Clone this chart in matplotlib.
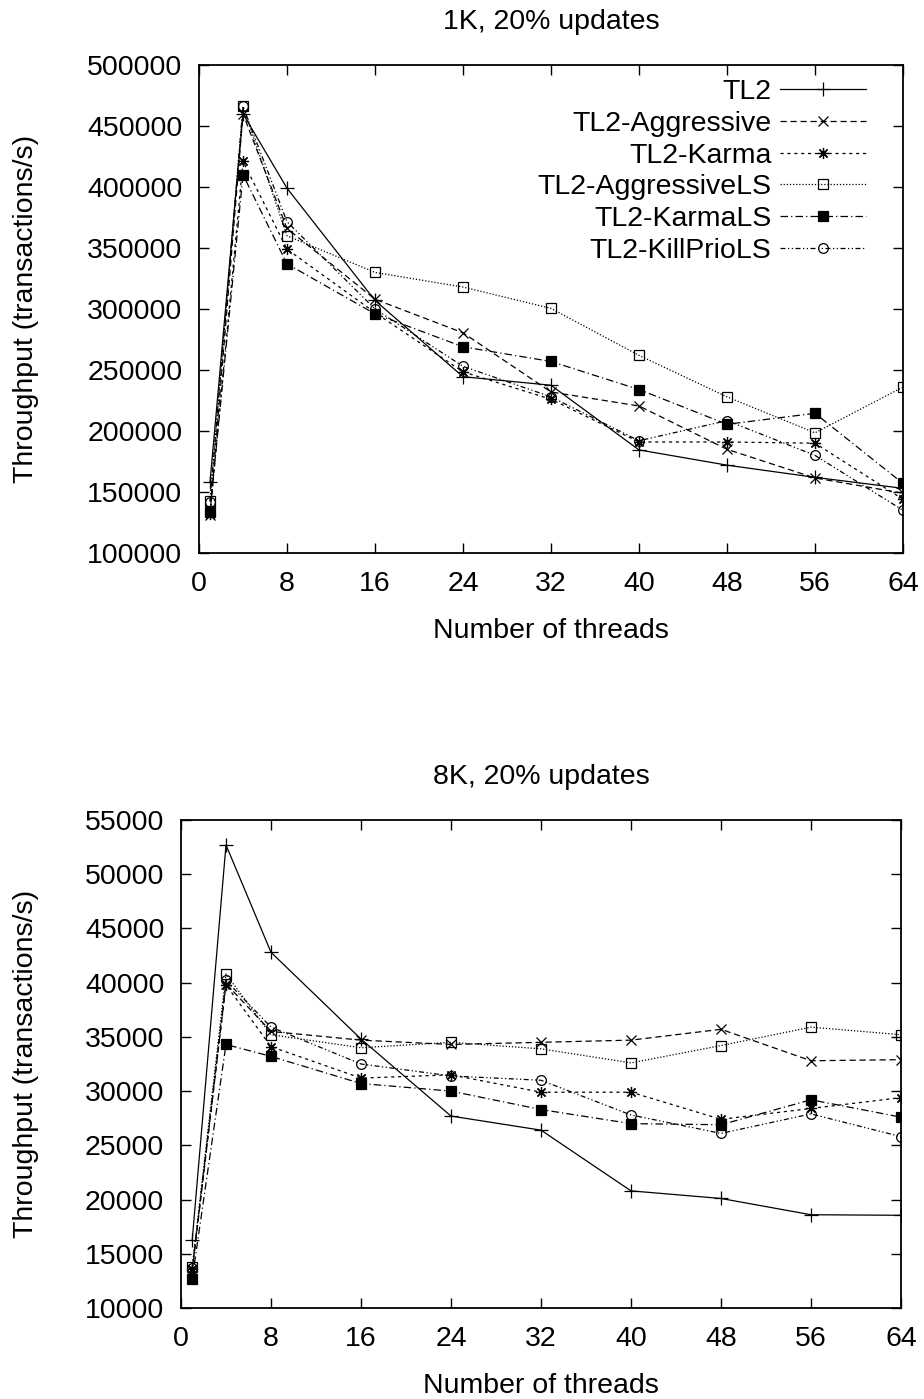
import matplotlib
matplotlib.use("Agg")
import matplotlib.pyplot as plt
import numpy as np

plt.rcParams['font.family'] = ['Liberation Sans', 'DejaVu Sans']

threads = [1, 4, 8, 16, 24, 32, 40, 48, 56, 64]
labels = ['TL2', 'TL2-Aggressive', 'TL2-Karma', 'TL2-AggressiveLS', 'TL2-KarmaLS', 'TL2-KillPrioLS']

# 1K, 20% updates
k1_tl2 = [158000, 460000, 399000, 307000, 244500, 237500, 184500, 172000, 162000, 153000]
k1_aggr = [131000, 460000, 366000, 308000, 280500, 232000, 220500, 185000, 161500, 149000]
k1_karma = [132000, 421000, 349000, 297000, 248500, 226000, 191000, 191000, 190000, 144000]
k1_aggr_ls = [143000, 466000, 360000, 330000, 318000, 300500, 262000, 228000, 198500, 236000]
k1_karma_ls = [134000, 410000, 337000, 296000, 269000, 257000, 234000, 205500, 214500, 157000]
k1_kill_ls = [142000, 466000, 371500, 300000, 253000, 228000, 192000, 208500, 180000, 135000]

# 8K, 20% updates
k8_tl2 = [16300, 52700, 42800, 34800, 27700, 26400, 20800, 20100, 18600, 18550]
k8_aggr = [13400, 39900, 35500, 34700, 34300, 34500, 34700, 35700, 32800, 32900]
k8_karma = [13600, 39800, 34100, 31200, 31500, 29900, 29900, 27400, 28400, 29400]
k8_aggr_ls = [13800, 40800, 35200, 34000, 34500, 33900, 32600, 34200, 35900, 35200]
k8_karma_ls = [12700, 34300, 33200, 30700, 30000, 28300, 27000, 26900, 29200, 27600]
k8_kill_ls = [13700, 40200, 35900, 32500, 31400, 31000, 27800, 26100, 27900, 25800]

styles = [
    dict(ls='-', marker='+', ms=10, mfc='none'),
    dict(ls=(0, (5, 3)), marker='x', ms=7.5, mfc='none'),
    dict(ls=(0, (2.5, 3)), marker=(8, 2, 0), ms=8, mfc='none'),
    dict(ls=(0, (1, 1.5)), marker='s', ms=6.5, mfc='none'),
    dict(ls=(0, (6, 2.5, 1, 2.5)), marker='s', ms=7.5, mfc='black'),
    dict(ls=(0, (4, 2, 1, 2, 1, 2)), marker='o', ms=7, mfc='none'),
]

FS = 20.5

fig = plt.figure(figsize=(9.24, 13.99), dpi=100)
ax1 = fig.add_axes([199 / 924, 1 - 553 / 1399, 704 / 924, 488 / 1399])
ax2 = fig.add_axes([181 / 924, 1 - 1308 / 1399, 720 / 924, 488 / 1399])


def draw(ax, series, title, yticks, left_px, width_px, with_legend):
    for vals, lab, st in zip(series, labels, styles):
        ax.plot(threads, vals, color='black', lw=0.9, mec='black', mew=0.9,
                label=lab, **st)
    ax.set_xlim(0, 64)
    ax.set_ylim(yticks[0], yticks[-1])
    ax.set_xticks(np.arange(0, 65, 8))
    ax.set_yticks(yticks)
    ax.tick_params(direction='in', length=7, width=1, top=True, right=True,
                   labelsize=FS)
    ax.tick_params(axis='x', pad=13)
    ax.tick_params(axis='y', pad=12)
    for s in ax.spines.values():
        s.set_linewidth(1.3)
    ax.set_title(title, fontsize=FS, pad=26)
    ax.set_xlabel('Number of threads', fontsize=FS, labelpad=15)
    ax.set_ylabel('Throughput (transactions/s)', fontsize=FS)
    ax.yaxis.set_label_coords((39 - left_px) / width_px, 0.5)
    if with_legend:
        ax.legend(loc='upper right', frameon=False, fontsize=FS, markerfirst=False,
                  handlelength=3.0, handletextpad=0.3, labelspacing=0.2,
                  borderaxespad=0.1, bbox_to_anchor=(0.967, 1.0))


draw(ax1, [k1_tl2, k1_aggr, k1_karma, k1_aggr_ls, k1_karma_ls, k1_kill_ls],
     '1K, 20% updates', np.arange(100000, 500001, 50000), 199, 704, True)
draw(ax2, [k8_tl2, k8_aggr, k8_karma, k8_aggr_ls, k8_karma_ls, k8_kill_ls],
     '8K, 20% updates', np.arange(10000, 55001, 5000), 181, 720, False)

plt.savefig('out.png', dpi=100)
